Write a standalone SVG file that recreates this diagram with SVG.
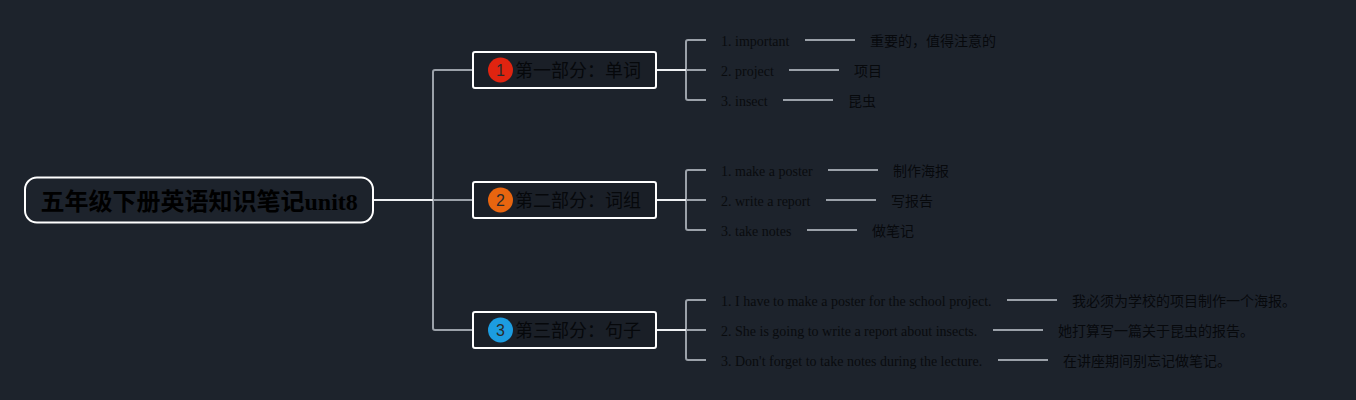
<svg xmlns="http://www.w3.org/2000/svg" width="1356" height="400" viewBox="0 0 1356 400">
<style>
text{font-family:"Liberation Serif","Noto Sans CJK SC",serif;fill:#0b0d10}
.root{fill:none;stroke:#fff;stroke-width:2}
.bx{fill:#1a1f27;stroke:#fff;stroke-width:2}
.rt{font-size:24px;font-weight:bold;fill:#000}
.bt{font-family:"Noto Sans CJK SC",sans-serif;font-size:18px;fill:#06080b}
.num{font-family:"Liberation Sans",sans-serif;font-size:16px;text-anchor:middle;fill:#2a2a2a}
.it{font-size:14px;fill:#090b0e}
.zh{font-family:"Noto Sans CJK SC",sans-serif;font-size:14px;fill:#07090c}
.g{fill:none;stroke:#9ba1a9;stroke-width:2}
.w{fill:none;stroke:#eef0f3;stroke-width:2}
</style>
<rect width="1356" height="400" fill="#1d232c"/>
<g id="connectors">
<path class="g" d="M473 70H435Q433 70 433 72V328Q433 330 435 330H473M433 200H473"/>
<path class="w" d="M373 200H433"/>
<path class="g" d="M706 40H688Q686 40 686 42V98Q686 100 688 100H706M686 70H706"/>
<path class="w" d="M656 70H686"/>
<path class="g" d="M706 170H688Q686 170 686 172V228Q686 230 688 230H706M686 200H706"/>
<path class="w" d="M656 200H686"/>
<path class="g" d="M706 300H688Q686 300 686 302V358Q686 360 688 360H706M686 330H706"/>
<path class="w" d="M656 330H686"/>
<path class="g" d="M805 40H855M789 70H839M783 100H833M828 170H878M826 200H876M807 230H857M1007 300H1057M993 330H1043M998 360H1048"/>
</g>
<g id="root"><rect class="root" x="25" y="177.500" width="348" height="45" rx="12"/><text class="rt" x="40.500" y="210">五年级下册英语知识笔记unit8</text></g>
<g id="b1"><rect class="bx" x="473" y="52" width="183" height="36" rx="2"/><circle cx="500.500" cy="70" r="12.500" fill="#e02410"/><text class="num" x="500.500" y="76">1</text><text class="bt" x="515" y="77">第一部分&#xFF1A;单词</text></g>
<g id="b2"><rect class="bx" x="473" y="182" width="183" height="36" rx="2"/><circle cx="500.500" cy="200" r="12.500" fill="#e8650f"/><text class="num" x="500.500" y="206">2</text><text class="bt" x="515" y="207">第二部分&#xFF1A;词组</text></g>
<g id="b3"><rect class="bx" x="473" y="312" width="183" height="36" rx="2"/><circle cx="500.500" cy="330" r="12.500" fill="#1c9ce0"/><text class="num" x="500.500" y="336">3</text><text class="bt" x="515" y="337">第三部分&#xFF1A;句子</text></g>
<g id="n1"><text class="it" x="721" y="46">1. important</text><text class="zh" x="870" y="46">重要的&#xFF0C;值得注意的</text></g>
<g id="n2"><text class="it" x="721" y="76">2. project</text><text class="zh" x="854" y="76">项目</text></g>
<g id="n3"><text class="it" x="721" y="106">3. insect</text><text class="zh" x="848" y="106">昆虫</text></g>
<g id="n4"><text class="it" x="721" y="176">1. make a poster</text><text class="zh" x="893" y="176">制作海报</text></g>
<g id="n5"><text class="it" x="721" y="206">2. write a report</text><text class="zh" x="891" y="206">写报告</text></g>
<g id="n6"><text class="it" x="721" y="236">3. take notes</text><text class="zh" x="872" y="236">做笔记</text></g>
<g id="n7"><text class="it" x="721" y="306">1. I have to make a poster for the school project.</text><text class="zh" x="1072" y="306">我必须为学校的项目制作一个海报。</text></g>
<g id="n8"><text class="it" x="721" y="336">2. She is going to write a report about insects.</text><text class="zh" x="1058" y="336">她打算写一篇关于昆虫的报告。</text></g>
<g id="n9"><text class="it" x="721" y="366">3. Don't forget to take notes during the lecture.</text><text class="zh" x="1063" y="366">在讲座期间别忘记做笔记。</text></g>
</svg>
